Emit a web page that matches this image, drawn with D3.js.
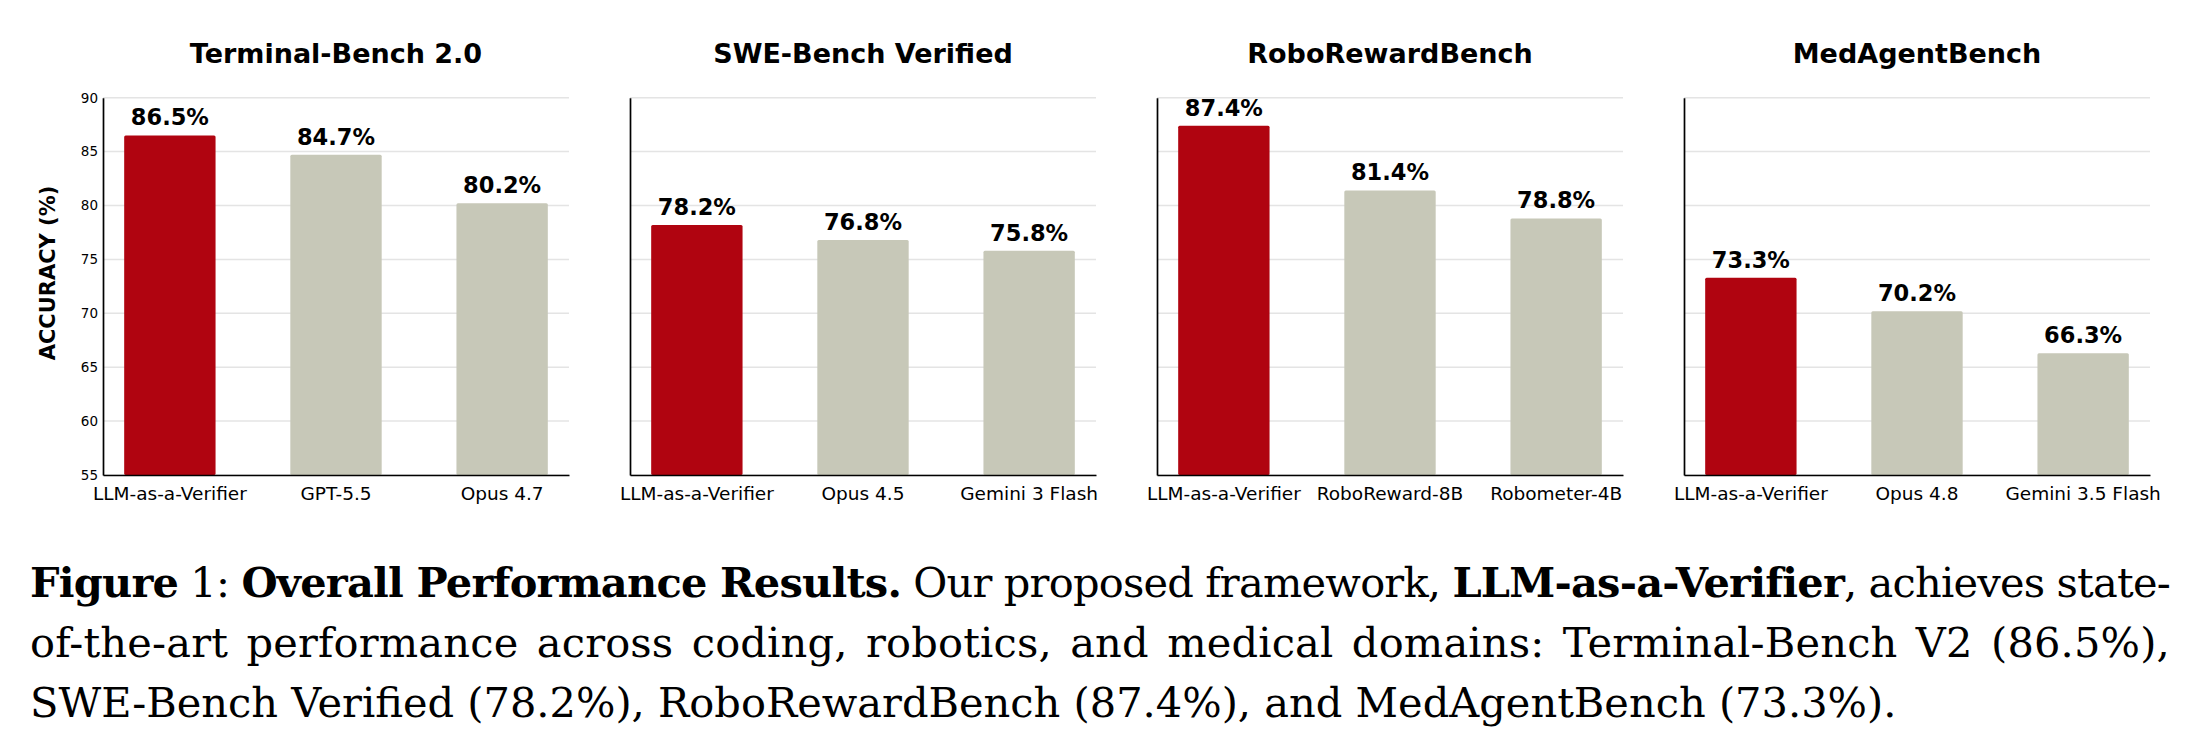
<!DOCTYPE html>
<html><head><meta charset="utf-8">
<script src="https://cdn.jsdelivr.net/npm/d3@7"></script>
<style>body{margin:0;background:#fff} svg{display:block}</style>
</head><body>
<svg id="chart" width="2200" height="753"></svg>
<script>
// ---------- data ----------
const panelTitles = ["Terminal-Bench 2.0", "SWE-Bench Verified", "RoboRewardBench", "MedAgentBench"];
const categories1 = ["LLM-as-a-Verifier", "GPT-5.5", "Opus 4.7"];
const values1 = [86.5, 84.7, 80.2];
const categories2 = ["LLM-as-a-Verifier", "Opus 4.5", "Gemini 3 Flash"];
const values2 = [78.2, 76.8, 75.8];
const categories3 = ["LLM-as-a-Verifier", "RoboReward-8B", "Robometer-4B"];
const values3 = [87.4, 81.4, 78.8];
const categories4 = ["LLM-as-a-Verifier", "Opus 4.8", "Gemini 3.5 Flash"];
const values4 = [73.3, 70.2, 66.3];
const yTicks = [55, 60, 65, 70, 75, 80, 85, 90];
const yDomain = [55, 90];
const yLabel = "ACCURACY (%)";
const captionLines = [
  [["Figure", true], [" 1: ", false], ["Overall Performance Results.", true], [" Our proposed framework, ", false], ["LLM-as-a-Verifier", true], [", achieves state-", false]],
  [["of-the-art performance across coding, robotics, and medical domains: Terminal-Bench V2 (86.5%),", false]],
  [["SWE-Bench Verified (78.2%), RoboRewardBench (87.4%), and MedAgentBench (73.3%).", false]]
];

const panels = [
  {title: panelTitles[0], cats: categories1, vals: values1},
  {title: panelTitles[1], cats: categories2, vals: values2},
  {title: panelTitles[2], cats: categories3, vals: values3},
  {title: panelTitles[3], cats: categories4, vals: values4}
];

// ---------- layout ----------
const svg = d3.select("#chart");
const plotTop = 97.7, plotBottom = 475, plotW = 466;
const lefts = [103, 630, 1157, 1684];
const RED = "#b00410", GRAY = "#c7c8b8";
const sans = "'DejaVu Sans', sans-serif";

const y = d3.scaleLinear().domain(yDomain).range([plotBottom, plotTop]);

panels.forEach((p, i) => {
  const L = lefts[i], R = L + plotW;
  const g = svg.append("g");
  const x = d3.scaleBand().domain(p.cats).range([L, R]).paddingInner(0.45).paddingOuter(0.1275);

  // gridlines
  g.append("g").selectAll("line").data(yTicks).join("line")
    .attr("x1", L).attr("x2", R)
    .attr("y1", d => y(d)).attr("y2", d => y(d))
    .attr("stroke", "#e4e4e4").attr("stroke-width", 1.5);

  // bars
  g.append("g").selectAll("rect").data(p.vals).join("rect")
    .attr("x", (d, j) => x(p.cats[j]))
    .attr("width", x.bandwidth())
    .attr("y", d => y(d))
    .attr("height", d => plotBottom - y(d))
    .attr("rx", 1.5)
    .attr("fill", (d, j) => j === 0 ? RED : GRAY);

  // value labels
  g.append("g").selectAll("text").data(p.vals).join("text")
    .attr("x", (d, j) => x(p.cats[j]) + x.bandwidth() / 2)
    .attr("y", d => y(d) - 10)
    .attr("text-anchor", "middle")
    .attr("font-family", sans).attr("font-weight", "bold").attr("font-size", 22.5)
    .attr("fill", "#000")
    .text(d => d.toFixed(1) + "%");

  // x axis
  const xa = g.append("g").attr("transform", `translate(0,${plotBottom})`)
    .call(d3.axisBottom(x).tickSize(0).tickSizeOuter(0).tickPadding(12));
  xa.select(".domain").attr("stroke", "#000").attr("stroke-width", 1.7);
  xa.selectAll("text").attr("font-family", sans).attr("font-size", 18.5).attr("fill", "#000");

  // y axis
  const ya = g.append("g").attr("transform", `translate(${L},0)`)
    .call(d3.axisLeft(y).tickValues(yTicks).tickSize(0).tickSizeOuter(0).tickPadding(5)
      .tickFormat(i === 0 ? d3.format("d") : () => ""));
  ya.select(".domain").attr("stroke", "#000").attr("stroke-width", 1.7);
  ya.selectAll("text").attr("font-family", sans).attr("font-size", 13.5).attr("fill", "#000");

  // title
  g.append("text")
    .attr("x", (L + R) / 2).attr("y", 63)
    .attr("text-anchor", "middle")
    .attr("font-family", sans).attr("font-weight", "bold").attr("font-size", 27)
    .text(p.title);
});

// y label
svg.append("text")
  .attr("transform", "translate(55,273) rotate(-90)")
  .attr("text-anchor", "middle")
  .attr("font-family", sans).attr("font-weight", "bold").attr("font-size", 21)
  .text(yLabel);

// ---------- caption ----------
const capX = 30, capRight = 2170, baselines = [597, 657, 717];
const serif = "'DejaVu Serif', serif";
const capTexts = captionLines.map((segs, k) => {
  const t = svg.append("text")
    .attr("x", capX).attr("y", baselines[k])
    .attr("font-family", serif).attr("font-size", 40).attr("fill", "#000")
    .style("white-space", "pre");
  segs.forEach(([s, b]) => t.append("tspan").attr("font-weight", b ? "bold" : "normal").text(s));
  return t;
});
// size font so that the last (unjustified) line spans as in the figure
const w3 = capTexts[2].node().getComputedTextLength();
const fs = 40 * (1867 / w3);
capTexts.forEach(t => t.attr("font-size", fs));
// justify the first two lines: moderate extra word space, remainder as letter spacing
[0, 1].forEach(k => {
  const t = capTexts[k];
  const str = captionLines[k].map(s => s[0]).join("");
  const w = t.node().getComputedTextLength();
  const spaces = str.split(" ").length - 1;
  const chars = str.length - 1;
  let extra = capRight - capX - w;
  let ws = 0, ls = 0;
  if (extra > 0) {
    ws = Math.min(extra / spaces, 0.12 * fs);
    ls = (extra - ws * spaces) / chars;
  } else {
    ls = extra / chars;
  }
  t.style("word-spacing", ws + "px").style("letter-spacing", ls + "px");
  // fine correction after measuring
  const w2 = t.node().getComputedTextLength();
  const corr = (capRight - capX - w2) / spaces;
  t.style("word-spacing", (ws + corr) + "px");
});
</script>
</body></html>
